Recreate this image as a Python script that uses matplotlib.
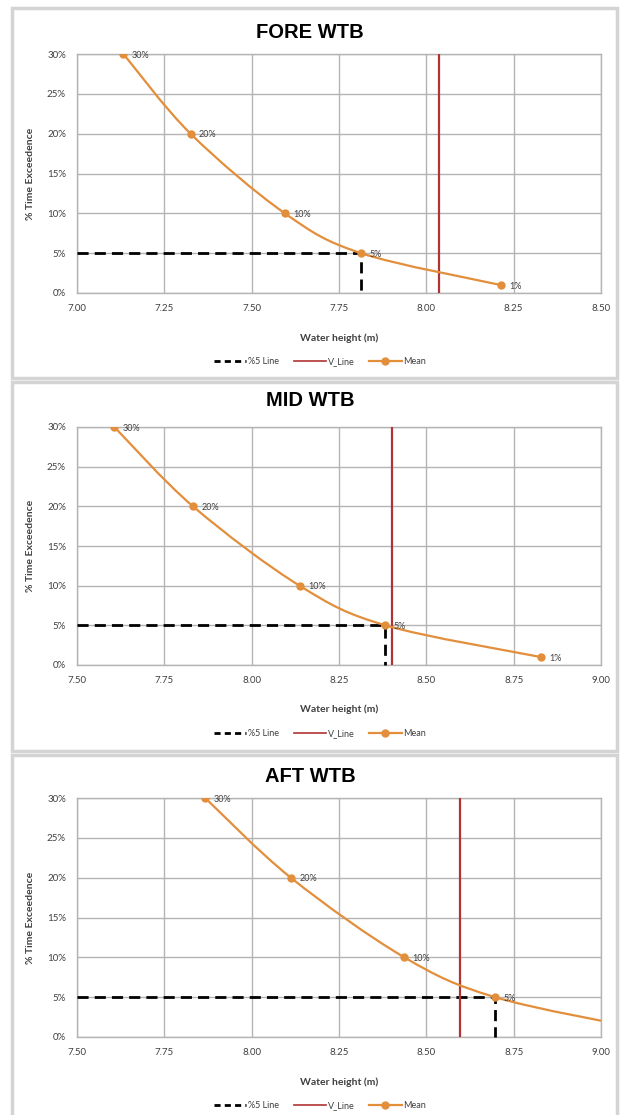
import matplotlib
matplotlib.use("Agg")
import matplotlib.pyplot as plt
from matplotlib.path import Path
from matplotlib.patches import PathPatch, Rectangle
from matplotlib.lines import Line2D
from matplotlib.ticker import FuncFormatter, MultipleLocator

# ---------------- data ----------------
titles = ["FORE WTB", "MID WTB", "AFT WTB"]
exceed_pct = [30, 20, 10, 5, 1]
point_labels = ["30%", "20%", "10%", "5%", "1%"]

fore_height = [7.133, 7.325, 7.595, 7.813, 8.213]
mid_height = [7.607, 7.832, 8.137, 8.383, 8.828]
aft_height = [7.867, 8.112, 8.437, 8.697, 9.12]
heights = [fore_height, mid_height, aft_height]

v_line = [8.037, 8.401, 8.596]
five_pct_x = [7.813, 8.383, 8.697]

x_limits = [(7.00, 8.50), (7.50, 9.00), (7.50, 9.00)]
y_limits = (0, 30)

# ---------------- style ----------------
ORANGE = "#E28E3B"
RED = "#B03434"
GRID = "#B4B4B4"
TXT = "#404040"
FONT = ["Lato", "DejaVu Sans"]

W, H = 622, 1115
fig = plt.figure(figsize=(W / 100, H / 100), dpi=100)
fig.patch.set_facecolor("white")

ax_boxes = [(54, 293), (427, 665), (798, 1037)]
frames = [(8, 378), (382, 751), (755, 1118)]
title_y = [33, 401, 777]
AX_L, AX_R = 77, 601

def smooth_path(xs, ys):
    pts = list(zip(xs, ys))
    n = len(pts)
    verts = [pts[0]]
    codes = [Path.MOVETO]
    for i in range(n - 1):
        p0 = pts[i - 1] if i > 0 else pts[i]
        p1 = pts[i]
        p2 = pts[i + 1]
        p3 = pts[i + 2] if i + 2 < n else pts[i + 1]
        c1 = (p1[0] + (p2[0] - p0[0]) / 6.0, p1[1] + (p2[1] - p0[1]) / 6.0)
        c2 = (p2[0] - (p3[0] - p1[0]) / 6.0, p2[1] - (p3[1] - p1[1]) / 6.0)
        verts += [c1, c2, p2]
        codes += [Path.CURVE4, Path.CURVE4, Path.CURVE4]
    return Path(verts, codes)

for k in range(3):
    ft, fb = frames[k]
    fig.patches.append(Rectangle((12 / W, 1 - fb / H), (617 - 12) / W, (fb - ft) / H,
                                 transform=fig.transFigure, facecolor="white",
                                 edgecolor="#D4D4D4", linewidth=2.5, zorder=-5))
    top, bot = ax_boxes[k]
    ax = fig.add_axes([AX_L / W, 1 - bot / H, (AX_R - AX_L) / W, (bot - top) / H])
    ax.set_zorder(1)
    ax.set_facecolor("white")
    xs = heights[k]
    ax.set_xlim(*x_limits[k])
    ax.set_ylim(*y_limits)
    ax.xaxis.set_major_locator(MultipleLocator(0.25))
    ax.yaxis.set_major_locator(MultipleLocator(5))
    ax.xaxis.set_major_formatter(FuncFormatter(lambda v, p: f"{v:.2f}"))
    ax.yaxis.set_major_formatter(FuncFormatter(lambda v, p: f"{v:.0f}%"))
    ax.grid(True, color=GRID, linewidth=1.0)
    ax.set_axisbelow(True)
    for s in ax.spines.values():
        s.set_color(GRID)
        s.set_linewidth(1.0)
    ax.tick_params(length=0, labelsize=7, labelcolor=TXT, pad=8)
    for lab in ax.get_xticklabels() + ax.get_yticklabels():
        lab.set_family(FONT)

    ax.plot([x_limits[k][0], five_pct_x[k], five_pct_x[k]], [5, 5, 0],
            color="black", linewidth=2.0, dashes=(4, 2.2), zorder=3, clip_on=False)
    ax.axvline(v_line[k], color=RED, linewidth=1.6, zorder=3)
    ax.add_patch(PathPatch(smooth_path(xs, exceed_pct), facecolor="none",
                           edgecolor=ORANGE, linewidth=1.6, zorder=4))
    ax.plot(xs, exceed_pct, linestyle="none", marker="o", markersize=5,
            color=ORANGE, zorder=5)
    for x, y, t in zip(xs, exceed_pct, point_labels):
        if x_limits[k][0] <= x <= x_limits[k][1]:
            ax.annotate(t, (x, y), xytext=(6, -0.8), textcoords="offset points",
                        ha="left", va="center", fontsize=6.5, color=TXT,
                        family=FONT, zorder=6)

    ax.set_xlabel("Water height (m)", fontsize=7.5, fontweight="bold", color=TXT, family=FONT)
    ax.xaxis.set_label_coords(0.5, -(333 - 293) / 239)
    ax.set_ylabel("% Time Exceedence", fontsize=7.5, fontweight="bold", color=TXT, family=FONT)
    ax.yaxis.set_label_coords((35 - 77) / 524, 0.5)

    fig.text(310 / W, 1 - title_y[k] / H, titles[k], ha="center", va="center",
             fontsize=14.5, fontweight="bold", family=["Liberation Sans", "DejaVu Sans"],
             color="black")

    handles = [
        Line2D([], [], color="black", linewidth=2.0, dashes=(2.2, 1.5)),
        Line2D([], [], color=RED, linewidth=1.2),
        Line2D([], [], color=ORANGE, linewidth=1.6, marker="o", markersize=5),
    ]
    leg = ax.legend(handles, ["%5 Line", "V_Line", "Mean"], loc="center",
                    bbox_to_anchor=(0.464, -(362 - 293) / 239), ncol=3, frameon=False,
                    handlelength=3.6, columnspacing=1.6, handletextpad=0.2,
                    prop={"family": FONT, "size": 6.5})
    for t in leg.get_texts():
        t.set_color(TXT)

fig.savefig("out.png", dpi=100, facecolor="white")
